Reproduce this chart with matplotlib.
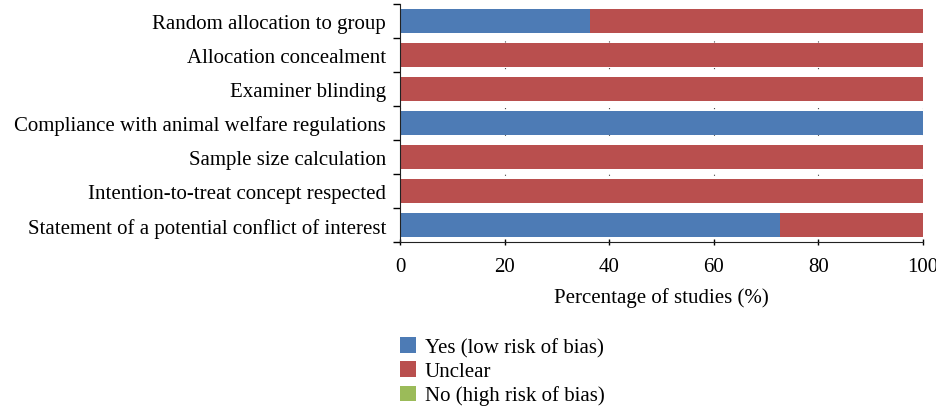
import matplotlib.pyplot as plt
import numpy as np
from matplotlib.patches import Patch

plt.rcParams['font.family'] = ['Liberation Serif', 'DejaVu Serif']

# Data
categories = [
    'Random allocation to group',
    'Allocation concealment',
    'Examiner blinding',
    'Compliance with animal welfare regulations',
    'Sample size calculation',
    'Intention-to-treat concept respected',
    'Statement of a potential conflict of interest',
]
yes_vals = [36.4, 0, 0, 100, 0, 0, 72.7]
unclear_vals = [63.6, 100, 100, 0, 100, 100, 27.3]
no_vals = [0, 0, 0, 0, 0, 0, 0]
legend_labels = ['Yes (low risk of bias)', 'Unclear', 'No (high risk of bias)']
colors = ['#4D7BB5', '#B94F4E', '#9BBB59']

fig = plt.figure(figsize=(9.37, 4.10), dpi=100)
ax = fig.add_axes([0.427, 0.407, 0.558, 0.581])

y = np.arange(len(categories))
yes = np.array(yes_vals)
unc = np.array(unclear_vals)
no = np.array(no_vals)
h = 0.7
ax.barh(y, yes, height=h, color=colors[0], zorder=2)
ax.barh(y, unc, left=yes, height=h, color=colors[1], zorder=2)
ax.barh(y, no, left=yes + unc, height=h, color=colors[2], zorder=2)

ax.set_xlim(0, 100)
ax.set_ylim(len(categories) - 0.5, -0.5)
ax.set_xticks([0, 20, 40, 60, 80, 100])
ax.tick_params(axis='x', labelsize=15, length=5, direction='inout', width=1, pad=8)
ax.set_yticks(y)
ax.set_yticklabels(categories, fontsize=15)
ax.tick_params(axis='y', length=0, pad=10)
# boundary ticks on the y axis
ax.set_yticks(np.arange(len(categories) + 1) - 0.5, minor=True)
ax.tick_params(axis='y', which='minor', length=5, width=1, direction='out')

ax.xaxis.grid(True, color='#444444', linestyle=(0, (1, 11)), linewidth=0.8, zorder=1)
for s in ['top', 'right']:
    ax.spines[s].set_visible(False)
ax.spines['left'].set_color('#222222')
ax.spines['bottom'].set_color('#222222')

ax.set_xlabel('Percentage of studies (%)', fontsize=15, labelpad=8)

handles = [Patch(facecolor=c, edgecolor='none') for c in colors]
fig.legend(handles, legend_labels, loc='upper left', bbox_to_anchor=(0.418, 0.195),
           frameon=False, fontsize=15, handlelength=0.75, handleheight=0.75,
           handletextpad=0.45, labelspacing=0.2, borderaxespad=0)

fig.savefig('out.png', dpi=100)
